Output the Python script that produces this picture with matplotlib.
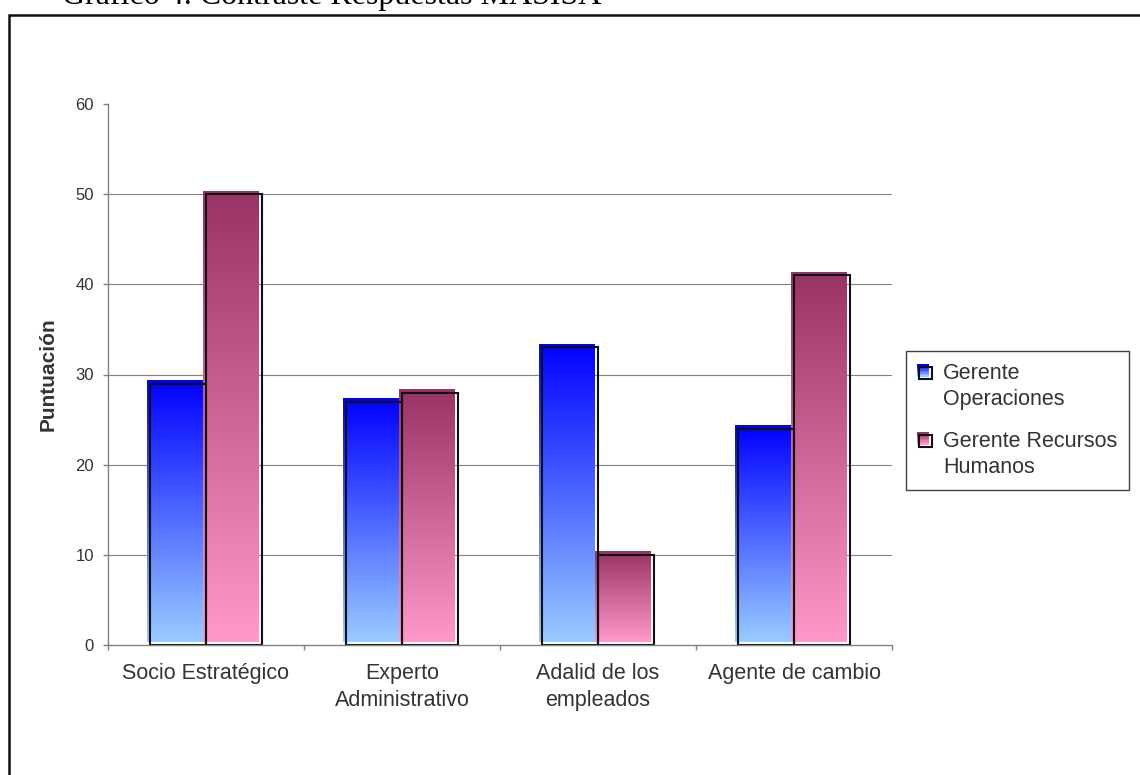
"""
Gráfico 4: contraste de respuestas MASISA
Barras con degradado por rol, según la puntuación de cada dimensión
"""

import numpy as np
import matplotlib
matplotlib.use('Agg')
import matplotlib.pyplot as plt
from matplotlib.patches import Rectangle
from matplotlib.legend_handler import HandlerBase
from matplotlib.colors import to_rgb

# Datos
categorias = ['Socio Estratégico', 'Experto\nAdministrativo',
              'Adalid de los\nempleados', 'Agente de cambio']
gerente_operaciones = [29, 27, 33, 24]
gerente_rrhh = [50, 28, 10, 41]
series = ['Gerente\nOperaciones', 'Gerente Recursos\nHumanos']
ticks_y = [0, 10, 20, 30, 40, 50, 60]
titulo = 'Gráfico 4. Contraste Respuestas MASISA'

# Colores del degradado (arriba -> abajo)
AZUL = ('#0000FF', '#99CCFF')
ROSA = ('#993366', '#FF99CC')
TEXTO = '#333333'
GRIS = '#808080'

plt.rcParams['font.family'] = ['Liberation Sans', 'DejaVu Sans']

DPI = 100
fig = plt.figure(figsize=(11.4, 7.75), dpi=DPI)
W, H = 1140, 775
ax = fig.add_axes([108 / W, 1 - 645 / H, 784 / W, 541 / H])

n = len(categorias)
x = np.arange(n)
ancho = 0.2857
ax.set_xlim(-0.5, n - 0.5)
ax.set_ylim(0, 60)

# desplazamiento del relleno respecto al borde (3 px arriba-izquierda)
dx = 3 * (n / 784)
dy = 3 * (60 / 541)


def degradado(c_arriba, c_abajo, filas=256):
    a = np.array(to_rgb(c_arriba))
    b = np.array(to_rgb(c_abajo))
    t = np.linspace(0, 1, filas)[:, None]
    return (a + (b - a) * t)[:, None, :]


# líneas de división horizontales (sin la de 60)
ax.hlines(ticks_y[1:-1], -0.5, n - 0.5, colors=GRIS, linewidth=0.8, zorder=1)

bordes = []
for valores, colores, lado in [(gerente_operaciones, AZUL, -1), (gerente_rrhh, ROSA, 0)]:
    for xi, v in zip(x, valores):
        x0 = xi + lado * ancho
        img = degradado(*colores)
        ax.imshow(img, extent=(x0 - dx, x0 + ancho - dx, dy, v + dy),
                  aspect='auto', origin='upper', interpolation='bilinear', zorder=2)
        bordes.append((x0, v))

# bordes negros encima de todos los rellenos
for x0, v in bordes:
    ax.add_patch(Rectangle((x0, 0), ancho, v, fill=False, edgecolor='#111111',
                           linewidth=1.5, zorder=3))

ax.set_xlim(-0.5, n - 0.5)
ax.set_ylim(0, 60)

# ejes
for s in ['top', 'right']:
    ax.spines[s].set_visible(False)
for s in ['left', 'bottom']:
    ax.spines[s].set_color(GRIS)
    ax.spines[s].set_linewidth(1.0)
    ax.spines[s].set_zorder(4)

ax.set_yticks(ticks_y)
ax.tick_params(axis='y', labelsize=12, labelcolor=TEXTO, color=GRIS,
               length=3.6, width=1.0, pad=6.5, direction='out')

ax.set_xticks(x)
ax.set_xticklabels(categorias, fontsize=15.5, color=TEXTO, linespacing=1.4)
ax.tick_params(axis='x', which='major', length=0, pad=13)
ax.set_xticks(np.arange(n + 1) - 0.5, minor=True)
ax.tick_params(axis='x', which='minor', length=3.6, width=1.0, color=GRIS,
               direction='out')

ax.set_ylabel('Puntuación', fontsize=15, fontweight='bold', color=TEXTO,
              labelpad=13)


class HandlerDegradado(HandlerBase):
    """Cuadrito de leyenda con degradado y borde negro"""

    def __init__(self, colores, franjas=8, **kw):
        super().__init__(**kw)
        self.colores = colores
        self.franjas = franjas

    def create_artists(self, legend, orig_handle, xdescent, ydescent,
                       width, height, fontsize, trans):
        lado = 0.58 * fontsize
        x0 = -xdescent + (width - lado) / 2
        y0 = -ydescent + (height - lado) / 2 + 0.66 * fontsize
        off = 1.6
        img = degradado(*self.colores, filas=self.franjas)[:, 0, :]
        h = lado / self.franjas
        artistas = []
        for i, c in enumerate(img):
            yy = y0 + off + lado - (i + 1) * h
            artistas.append(Rectangle((x0 - off, yy), lado, h, facecolor=c,
                                      edgecolor='none', transform=trans))
        artistas.append(Rectangle((x0, y0), lado, lado, fill=False,
                                  edgecolor='#111111', linewidth=1.5,
                                  transform=trans))
        return artistas


h1 = Rectangle((0, 0), 1, 1)
h2 = Rectangle((0, 0), 1, 1)
leg = fig.legend([h1, h2], series, loc='upper left',
                 bbox_to_anchor=(906 / W, 1 - 351 / H), borderaxespad=0,
                 handler_map={h1: HandlerDegradado(AZUL), h2: HandlerDegradado(ROSA)},
                 prop={'size': 15.5}, labelcolor=TEXTO, fancybox=False,
                 edgecolor='#404040', framealpha=1, borderpad=0.55,
                 handlelength=0.7, handletextpad=0.47, labelspacing=0.95)
leg.get_frame().set_linewidth(1.0)
for t in leg.get_texts():
    t.set_linespacing(1.35)

# marco del gráfico (sólo lados izquierdo y superior quedan dentro de la imagen)
fig.patches.append(Rectangle((8.7 / W, -0.2), 1.5, 1.2 - 15 / H, fill=False,
                             edgecolor='#111111', linewidth=1.8,
                             transform=fig.transFigure, figure=fig))

# título del documento, cortado por el borde superior
fig.text(62 / W, 1 - 4 / H, titulo, family=['Liberation Serif', 'DejaVu Serif'],
         fontsize=23, va='baseline', ha='left', color='black')

fig.savefig('out.png', dpi=DPI)
plt.close(fig)
